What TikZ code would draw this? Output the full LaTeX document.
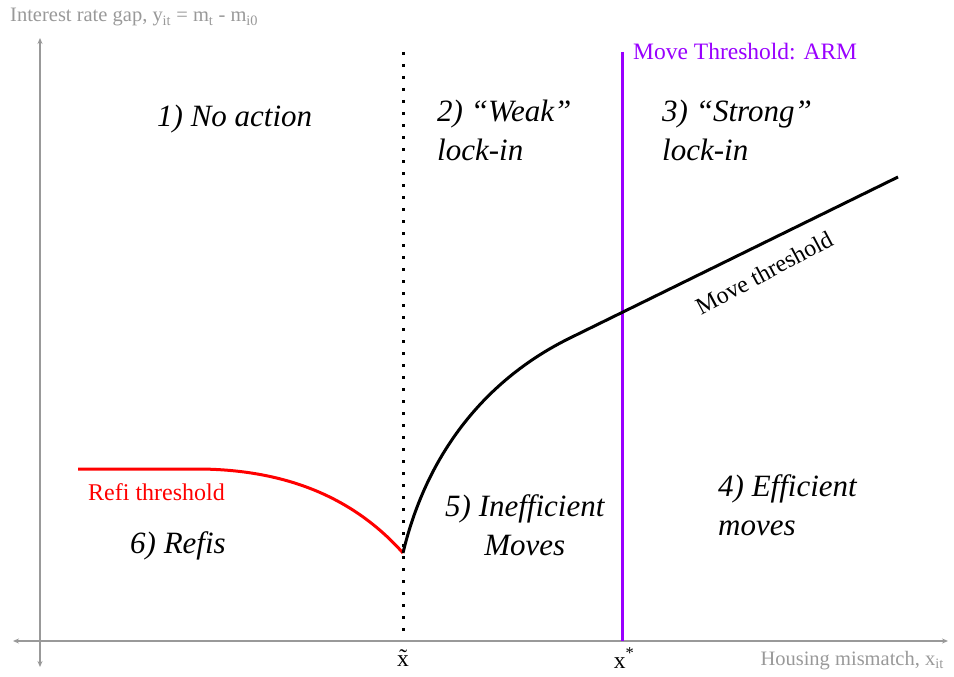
\documentclass[tikz,border=0pt]{standalone}
\usepackage{fontspec}
\setmainfont{Liberation Serif}
\usetikzlibrary{arrows.meta}
\definecolor{axgray}{RGB}{153,153,153}
\definecolor{armpurple}{RGB}{153,0,255}
\definecolor{refired}{RGB}{255,0,0}
\begin{document}
\begin{tikzpicture}[x=1pt,y=-1pt,
  axis/.style={axgray,line width=1.2pt,-{Stealth[length=6pt,width=5pt]}},
  region/.style={inner sep=0pt,anchor=base west,font=\fontsize{31}{39}\selectfont\itshape,align=left},
  smalllbl/.style={inner sep=0pt,font=\fontsize{23.5}{27}\selectfont},
  graylbl/.style={inner sep=0pt,axgray,font=\fontsize{20.5}{24}\selectfont}]
\useasboundingbox (0,0) rectangle (954,677);
% axes
\coordinate (yb) at (40,641);
\coordinate (ytop) at (40,38);
\coordinate (ybot) at (40,667);
\coordinate (xl) at (13,641);
\coordinate (xr) at (948,641);
\draw[axis] (yb) -- (ytop);
\draw[axis] (yb) -- (ybot);
\draw[axis] (yb) -- (xl);
\draw[axis] (yb) -- (xr);
% dotted line at x tilde
\coordinate (dtop) at (403,52);
\coordinate (dbot) at (403,632);
\draw[line width=3pt,dash pattern=on 3pt off 9pt] (dtop) -- (dbot);
% purple ARM line
\coordinate (ptop) at (622,52);
\coordinate (pbot) at (622,641);
\draw[armpurple,line width=3pt] (ptop) -- (pbot);
% red refi threshold
\coordinate (r0) at (78,469);
\coordinate (r1) at (200,469);
\coordinate (kink) at (403,553);
\draw[refired,line width=3pt] (r0) -- (r1) .. controls (300,470) and (362,507) .. (kink);
% black move threshold
\coordinate (m1) at (570,338);
\coordinate (m2) at (898,177);
\draw[black,line width=3pt] (kink) .. controls (425,460) and (480,382.2) .. (m1) -- (m2);
% labels
\node[graylbl,anchor=base west] (ylab) at (10,22) {Interest rate gap, y\textsubscript{it} = m\textsubscript{t} - m\textsubscript{i0}};
\node[graylbl,anchor=base east] (xlab) at (944,665) {Housing mismatch, x\textsubscript{it}};
\node[smalllbl,anchor=base] (xt) at (403,666) {\~{x}};
\node[smalllbl,anchor=base] (xs) at (624,668) {x\textsuperscript{*}};
\node[smalllbl,armpurple,anchor=base west] (arm) at (633,60) {Move Threshold: ARM};
\node[smalllbl,refired,anchor=base west,font=\fontsize{24}{28}\selectfont] (refl) at (88,500) {Refi threshold};
\node[smalllbl,anchor=base,rotate=28,font=\fontsize{24}{28}\selectfont] (mvl) at (768,280) {Move threshold};
\node[region] (n1) at (157,126) {1) No action};
\node[region] (n2) at (437,160) {2) “Weak”\\lock-in};
\node[region] (n3) at (662,160) {3) “Strong”\\lock-in};
\node[region] (n4) at (718,535) {4) Efficient\\moves};
\node[region,align=center] (n5) at (445,555) {5) Inefficient\\Moves};
\node[region] (n6) at (130,553) {6) Refis};
\end{tikzpicture}
\end{document}
